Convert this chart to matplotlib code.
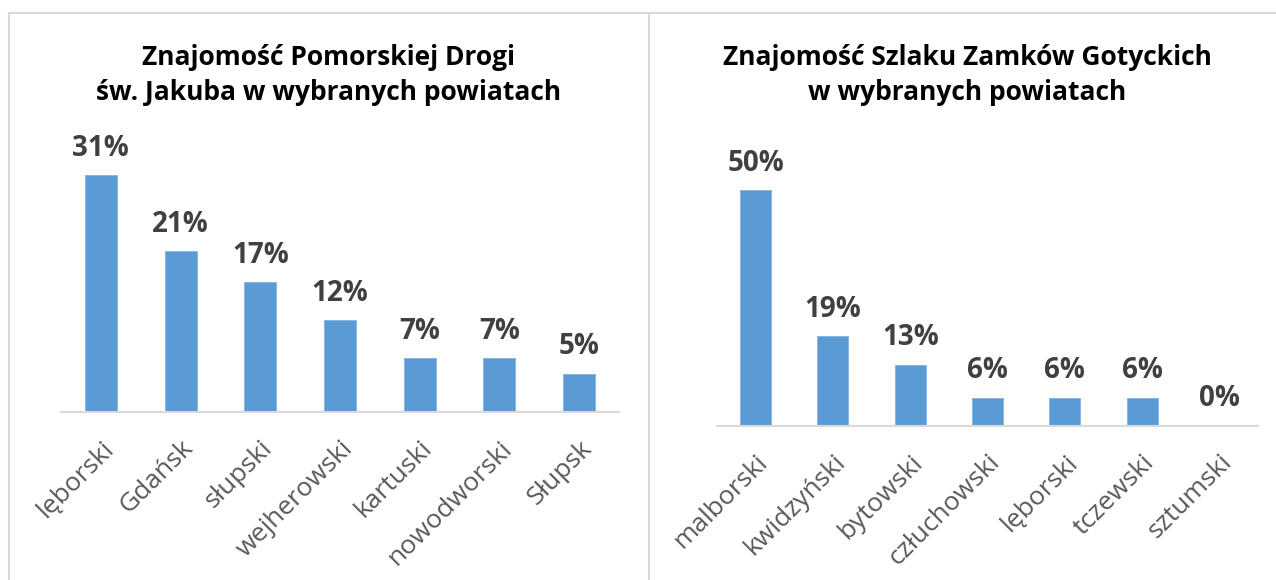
import matplotlib.pyplot as plt
from matplotlib.lines import Line2D

plt.rcParams['font.family'] = ['Open Sans', 'DejaVu Sans']

# dane
left_title = 'Znajomość Pomorskiej Drogi\nśw. Jakuba w wybranych powiatach'
left_cats = ['lęborski', 'Gdańsk', 'słupski', 'wejherowski', 'kartuski', 'nowodworski', 'Słupsk']
left_vals = [31, 21, 17, 12, 7, 7, 5]

right_title = 'Znajomość Szlaku Zamków Gotyckich\nw wybranych powiatach'
right_cats = ['malborski', 'kwidzyński', 'bytowski', 'człuchowski', 'lęborski', 'tczewski', 'sztumski']
right_vals = [50, 19, 13, 6, 6, 6, 0]

W, H = 1276, 580
fig = plt.figure(figsize=(W / 100, H / 100), dpi=100)

bar_color = '#5B9BD5'
axis_color = '#D9D9D9'
border_color = '#D9D9D9'

# ramki paneli
def fline(x0, y0, x1, y1):
    fig.add_artist(Line2D([x0 / W, x1 / W], [1 - y0 / H, 1 - y1 / H],
                          color=border_color, lw=1.5, transform=fig.transFigure))

fline(9, 13, 1276, 13)
fline(9, 13, 9, 580)
fline(648.5, 13, 648.5, 580)


def draw(rect, cats, vals, ymax, title, title_x):
    x0, base, x1, top = rect
    ax = fig.add_axes([x0 / W, 1 - base / H, (x1 - x0) / W, (base - top) / H])
    xs = list(range(len(cats)))
    bars = ax.bar(xs, vals, width=0.4, color=bar_color, edgecolor='#7FB2E0', linewidth=0.6)
    ax.set_xlim(-0.5, len(cats) - 0.5)
    ax.set_ylim(0, ymax)
    for b, v in zip(bars, vals):
        ax.annotate(f'{v}%', (b.get_x() + b.get_width() / 2, v), xytext=(0, 9),
                    textcoords='offset points', ha='center', va='bottom',
                    fontsize=20, fontweight='bold', color='#404040')
    ax.set_xticks(xs)
    ax.set_xticklabels(cats, rotation=45, ha='right', va='top', rotation_mode='anchor',
                       fontsize=19, color='#595959')
    ax.tick_params(axis='x', length=0, pad=17)
    ax.set_yticks([])
    for s in ['top', 'left', 'right']:
        ax.spines[s].set_visible(False)
    ax.spines['bottom'].set_color(axis_color)
    ax.spines['bottom'].set_linewidth(1.5)
    ax.patch.set_alpha(0)
    fig.text(title_x / W, 1 - 75 / H, title, ha='center', va='center',
             fontsize=19, fontweight='bold', color='black', linespacing=1.4)


draw((61, 412, 619, 412 - 35 * 7.645), left_cats, left_vals, 35, left_title, 329)
draw((717, 426, 1258, 426 - 55 * 4.72), right_cats, right_vals, 55, right_title, 967)

fig.savefig('out.png', dpi=100, facecolor='white')
